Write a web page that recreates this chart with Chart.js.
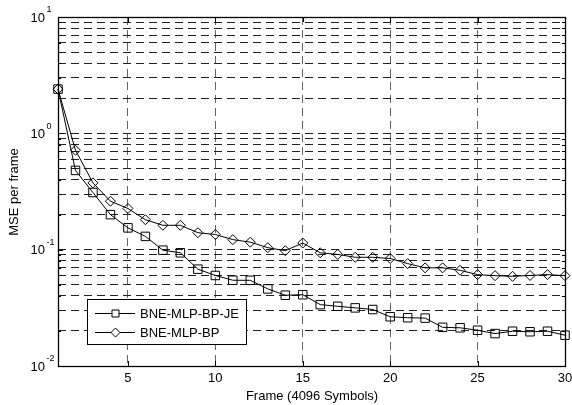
<!DOCTYPE html>
<html>
<head>
<meta charset="utf-8">
<script src="https://cdn.jsdelivr.net/npm/chart.js@4.4.1/dist/chart.umd.min.js"></script>
<style>
html,body{margin:0;padding:0;background:#fff;}
#wrap{width:572px;height:405px;position:relative;}
</style>
</head>
<body>
<div id="wrap"><canvas id="c" width="572" height="405"></canvas></div>
<script>
const frames = [1,2,3,4,5,6,7,8,9,10,11,12,13,14,15,16,17,18,19,20,21,22,23,24,25,26,27,28,29,30];
const mseJE = [2.4,0.48,0.31,0.20,0.154,0.130,0.099,0.094,0.068,0.060,0.0546,0.0545,0.046,0.0406,0.041,0.0337,0.0326,0.0316,0.0306,0.0265,0.026,0.0258,0.0215,0.0213,0.0203,0.0190,0.0199,0.0197,0.0199,0.0184];
const mseBP = [2.4,0.716,0.375,0.261,0.226,0.181,0.162,0.162,0.140,0.135,0.122,0.116,0.104,0.098,0.114,0.094,0.091,0.086,0.086,0.084,0.0759,0.0698,0.0698,0.0665,0.0610,0.0598,0.059,0.060,0.061,0.0598];
const seriesLabels = ['BNE-MLP-BP-JE','BNE-MLP-BP'];
const xTicks = [5,10,15,20,25,30];
const yMajorExps = [1,0,-1,-2];
const xTitle = 'Frame (4096 Symbols)';
const yTitle = 'MSE per frame';

const FONT = '"Liberation Sans", Arial, sans-serif';

function yTickValues(){
  const v = [];
  for (let e=-2; e<=0; e++) for (let s=1; s<=9; s++) v.push(+(s*Math.pow(10,e)).toPrecision(3));
  v.push(10);
  return v;
}

const decor = {
  id:'decor',
  beforeDatasetsDraw(chart){
    const {ctx, chartArea:a} = chart;
    const ys = chart.scales.y, xs = chart.scales.x;
    ctx.save();
    ctx.strokeStyle = '#000';
    ctx.lineWidth = 1;
    ctx.beginPath();
    yTickValues().forEach(v=>{
      const p = Math.round(ys.getPixelForValue(v))+0.5;
      const major = Math.abs(Math.log10(v)-Math.round(Math.log10(v)))<1e-9;
      const L = major?5:3;
      ctx.moveTo(a.left,p); ctx.lineTo(a.left+L,p);
      ctx.moveTo(a.right,p); ctx.lineTo(a.right-L,p);
    });
    xTicks.forEach(v=>{
      const p = Math.round(xs.getPixelForValue(v))+0.5;
      ctx.moveTo(p,a.bottom); ctx.lineTo(p,a.bottom-5);
      ctx.moveTo(p,a.top); ctx.lineTo(p,a.top+5);
    });
    ctx.stroke();
    ctx.lineWidth = 1.3;
    ctx.strokeRect(Math.round(a.left)+0.5, Math.round(a.top)+0.5, Math.round(a.right-a.left), Math.round(a.bottom-a.top));
    ctx.restore();
  },
  afterDraw(chart){
    const {ctx, chartArea:a} = chart;
    const ys = chart.scales.y, xs = chart.scales.x;
    ctx.save();
    ctx.fillStyle = '#000';
    ctx.font = '13px ' + FONT;
    ctx.textAlign = 'center';
    ctx.textBaseline = 'middle';
    xTicks.forEach(v=>{
      ctx.fillText(String(v), xs.getPixelForValue(v), a.bottom + 12);
    });
    yMajorExps.forEach(e=>{
      const p = ys.getPixelForValue(Math.pow(10,e));
      ctx.font = '13px ' + FONT;
      ctx.textAlign = 'right';
      ctx.textBaseline = 'middle';
      ctx.fillText('10', 45, p + 1);
      ctx.font = '9px ' + FONT;
      ctx.textAlign = 'left';
      ctx.fillText(String(e), 46.5, p - 7);
    });
    ctx.font = '13px ' + FONT;
    ctx.textAlign = 'center';
    ctx.textBaseline = 'middle';
    ctx.fillText(xTitle, 312, 396);
    ctx.save();
    ctx.translate(14, 192);
    ctx.rotate(-Math.PI/2);
    ctx.fillText(yTitle, 0, 0);
    ctx.restore();
    const lx=87.5, ly=299.5, lw=159, lh=45;
    ctx.fillStyle = '#fff';
    ctx.fillRect(lx,ly,lw,lh);
    ctx.strokeStyle = '#000';
    ctx.lineWidth = 1;
    ctx.strokeRect(lx,ly,lw,lh);
    const rows = [313.5, 332.5];
    chart.data.datasets.forEach((ds,i)=>{
      const y = rows[i];
      ctx.beginPath();
      ctx.moveTo(95,y); ctx.lineTo(135,y);
      ctx.stroke();
      ctx.beginPath();
      const mx = 115.5;
      if (ds.pointStyle==='rect'){
        ctx.rect(mx-3.5,y-3.5,7,7);
      } else {
        ctx.moveTo(mx-4.5,y); ctx.lineTo(mx,y-4.5); ctx.lineTo(mx+4.5,y); ctx.lineTo(mx,y+4.5); ctx.closePath();
      }
      ctx.fillStyle='#fff'; ctx.fill();
      ctx.stroke();
      ctx.fillStyle = '#000';
      ctx.font = '13px ' + FONT;
      ctx.textAlign = 'left';
      ctx.textBaseline = 'middle';
      ctx.fillText(ds.label, 140, y + 0.5);
    });
    ctx.restore();
  }
};

new Chart(document.getElementById('c'), {
  type:'line',
  data:{
    datasets:[
      {label:seriesLabels[0], data:frames.map((f,i)=>({x:f,y:mseJE[i]})), borderColor:'#000', borderWidth:1,
       pointStyle:'rect', pointRadius:6, pointBorderWidth:1, pointBorderColor:'#000', pointBackgroundColor:'rgba(0,0,0,0)', tension:0, clip:false},
      {label:seriesLabels[1], data:frames.map((f,i)=>({x:f,y:mseBP[i]})), borderColor:'#000', borderWidth:1,
       pointStyle:'rectRot', pointRadius:5, pointBorderWidth:1, pointBorderColor:'#000', pointBackgroundColor:'rgba(0,0,0,0)', tension:0, clip:false}
    ]
  },
  options:{
    responsive:false,
    animation:false,
    devicePixelRatio:1,
    layout:{padding:{top:17, right:5, left:0, bottom:0}},
    plugins:{legend:{display:false}, tooltip:{enabled:false}},
    events:[],
    scales:{
      x:{
        type:'linear', min:1, max:30,
        afterBuildTicks(s){ s.ticks = xTicks.filter(v=>v<30).map(v=>({value:v})); },
        afterFit(s){ s.height = 39; },
        ticks:{display:false},
        grid:{color:'#666', lineWidth:1, drawTicks:false},
        border:{display:false, dash:[8,5]}
      },
      y:{
        type:'logarithmic', min:0.01, max:10,
        afterBuildTicks(s){ s.ticks = yTickValues().filter(v=>v>0.01 && v<10).map(v=>({value:v})); },
        afterFit(s){ s.width = 58; },
        ticks:{display:false},
        grid:{color:'#222', lineWidth:1, drawTicks:false},
        border:{display:false, dash:[8,5]}
      }
    }
  },
  plugins:[decor]
});
</script>
</body>
</html>
